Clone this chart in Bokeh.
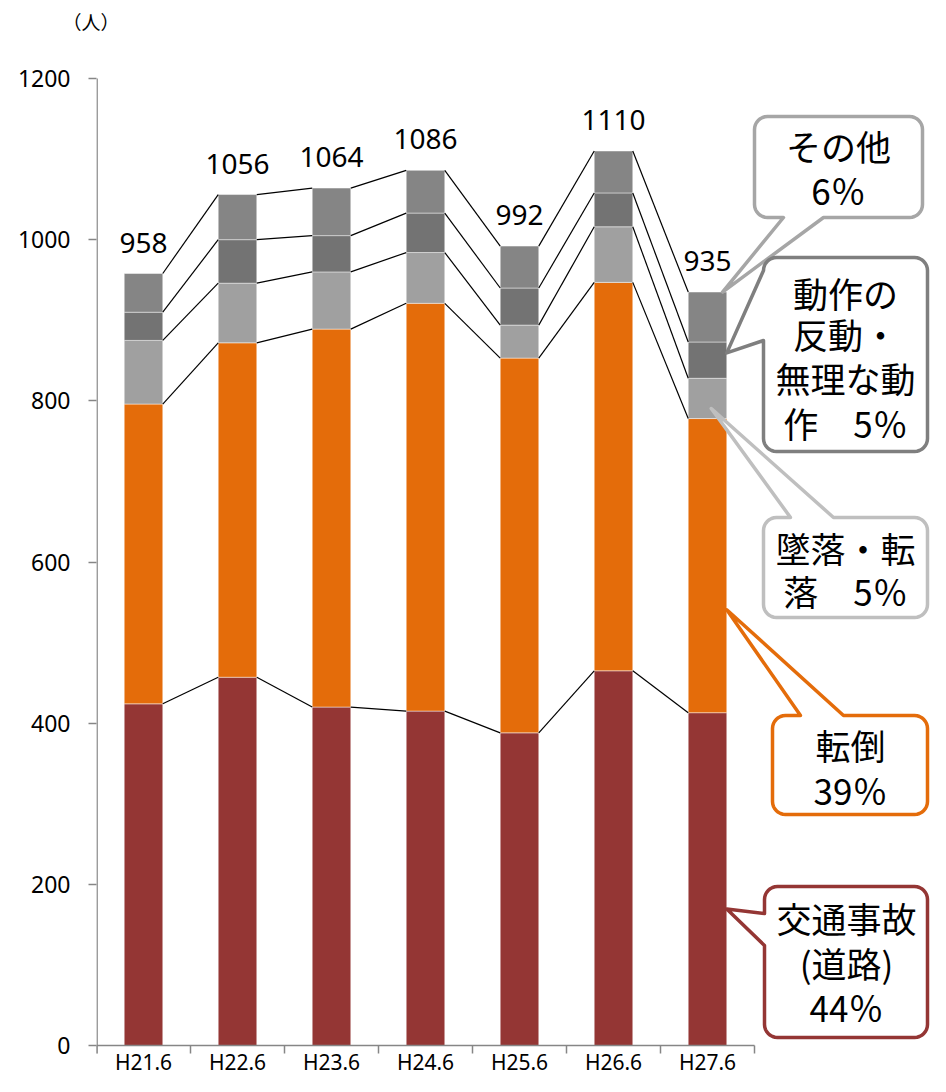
import math
from bokeh.plotting import figure
from bokeh.models import Range1d, FixedTicker, ColumnDataSource
from bokeh.core.properties import value
from bokeh.embed import file_html
from bokeh.resources import INLINE

# ---------------- data ----------------
categories = ["H21.6", "H22.6", "H23.6", "H24.6", "H25.6", "H26.6", "H27.6"]
traffic = [424, 457, 420, 415, 388, 465, 413]      # 交通事故(道路)
fall_over = [372, 415, 469, 506, 465, 482, 365]    # 転倒
fall_from = [79, 74, 71, 63, 41, 69, 50]           # 墜落・転落
reaction = [35, 54, 45, 49, 46, 42, 45]            # 動作の反動・無理な動作
other = [48, 56, 59, 53, 52, 52, 62]               # その他
totals = [958, 1056, 1064, 1086, 992, 1110, 935]
series_keys = ["traffic", "fall_over", "fall_from", "reaction", "other"]
series_colors = ["#943634", "#E46C0A", "#A0A0A0", "#737373", "#858585"]
y_ticks = [0, 200, 400, 600, 800, 1000, 1200]
unit_label = "（人）"
callout_lines = [
    ["その他", "6％"],
    ["動作の", "反動・", "無理な動", "作　5％"],
    ["墜落・転", "落　5％"],
    ["転倒", "39％"],
    ["交通事故", "(道路)", "44％"],
]
callout_borders = ["#A6A6A6", "#7F7F7F", "#BFBFBF", "#E46C0A", "#943634"]

# ---------------- layout helpers (canvas pixels <-> data) ----------------
W, H = 930, 1076
LEFT, TOP = 96, 36
CAT_PX = 94.0
K = 967.0 / 1200.0        # px per person
def X(px):
    return (px - LEFT) / CAT_PX
def Y(py):
    return (1045.0 - py) / K
def PX(x):
    return LEFT + x * CAT_PX
def PY(v):
    return 1045.0 - v * K

p = figure(width=W, height=H,
           x_range=Range1d(0, (W - LEFT) / CAT_PX),
           y_range=Range1d(Y(H), Y(TOP)),
           x_axis_location=None,
           output_backend="svg", toolbar_location=None,
           min_border_left=LEFT, min_border_right=0,
           min_border_top=TOP, min_border_bottom=0)
p.grid.visible = False
p.outline_line_color = None
p.background_fill_color = "white"
p.border_fill_color = "white"

p.title.text = unit_label
p.title.align = "left"
p.title.offset = 62 - LEFT
p.title.text_font = "Noto Sans CJK JP"
p.title.text_font_size = "19px"
p.title.text_font_style = "normal"
p.title.text_color = "black"
p.title.standoff = 4

yax = p.yaxis[0]
yax.ticker = FixedTicker(ticks=y_ticks)
yax.axis_line_color = None
yax.major_tick_out = 8
yax.major_tick_in = 0
yax.major_tick_line_color = "#868686"
yax.major_tick_line_width = 1.5
yax.minor_tick_line_color = None
yax.major_label_standoff = 18
yax.major_label_text_font_size = "23px"
yax.major_label_text_font = "Noto Sans"
yax.major_label_text_color = "black"

n = len(categories)
xs = [i + 0.5 for i in range(n)]
BW = 0.41

src = ColumnDataSource(dict(x=xs, traffic=traffic, fall_over=fall_over,
                            fall_from=fall_from, reaction=reaction, other=other))
p.vbar_stack(series_keys, x="x", width=BW, color=series_colors, source=src,
             line_color="white", line_alpha=0.45, line_width=1)

# connecting lines between stacked boundaries
series = [traffic, fall_over, fall_from, reaction, other]
cum = []
run = [0] * n
for s in series:
    run = [a + b for a, b in zip(run, s)]
    cum.append(run)
x0s, y0s, x1s, y1s = [], [], [], []
for level in cum:
    for i in range(n - 1):
        x0s.append(xs[i] + BW / 2)
        y0s.append(level[i])
        x1s.append(xs[i + 1] - BW / 2)
        y1s.append(level[i + 1])
p.segment(x0=x0s, y0=y0s, x1=x1s, y1=y1s, line_color="black", line_width=1.2)

# axis lines and x ticks (drawn as glyphs)
p.segment(x0=[0.006], y0=[Y(1053)], x1=[0.006], y1=[y_ticks[-1]],
          line_color="#868686", line_width=1.5)
p.segment(x0=[0], y0=[0], x1=[n], y1=[0], line_color="#868686", line_width=1.5)
p.segment(x0=list(range(n + 1)), y0=[0] * (n + 1), x1=list(range(n + 1)),
          y1=[Y(1053)] * (n + 1), line_color="#868686", line_width=1.5)

# category labels
p.text(x=xs, y=[0] * n, text=categories, y_offset=16,
       text_align="center", text_baseline="middle",
       text_font=value("Noto Sans"), text_font_size="21px", text_color="black")

# total labels
p.text(x=xs, y=totals, text=[str(t) for t in totals], y_offset=-31,
       text_align="center", text_baseline="middle",
       text_font=value("Noto Sans"), text_font_size="28px", text_color="black")

# ---------------- callouts ----------------
def callout(x0, y0, x1, y1, r, side, b1, b2, apex):
    pts = []
    def arc(cx, cy, a0, a1):
        for k in range(9):
            a = math.radians(a0 + (a1 - a0) * k / 8)
            pts.append((cx + r * math.cos(a), cy + r * math.sin(a)))
    pts.append((x0 + r, y0))
    if side == "top":
        pts.extend([(b1, y0), apex, (b2, y0)])
    arc(x1 - r, y0 + r, -90, 0)
    arc(x1 - r, y1 - r, 0, 90)
    if side == "bottom":
        pts.extend([(b2, y1), apex, (b1, y1)])
    arc(x0 + r, y1 - r, 90, 180)
    if side == "left":
        pts.extend([(x0, b2), apex, (x0, b1)])
    arc(x0 + r, y0 + r, 180, 270)
    return [X(a) for a, b in pts], [Y(b) for a, b in pts]

last = n - 1
right_edge = xs[last] + BW / 2
apexes = [
    (PX(xs[last] + 0.16), PY(cum[4][last])),
    (PX(right_edge), PY(cum[2][last] + 0.7 * reaction[last])),
    (PX(xs[last] + 0.04), PY(cum[1][last] + 0.25 * fall_from[last])),
    (PX(right_edge), PY(traffic[last] + 0.35 * fall_over[last])),
    (PX(right_edge), PY(0.41 * traffic[last])),
]
boxes = [
    (754, 116, 922, 217, "bottom", 783, 823),
    (763, 257, 927, 451, "left", 270, 340),
    (763, 517, 927, 617, "top", 790, 833),
    (772, 715, 927, 814, "top", 800, 843),
    (764, 886, 927, 1037, "left", 913, 945),
]
text_pos = [
    (838, [145, 189]),
    (845, [292, 333, 377, 422]),
    (845, [547, 590]),
    (850, [744, 789]),
    (846, [917, 962, 1006]),
]
pxs, pys = [], []
for (x0, y0, x1, y1, side, b1, b2), apex in zip(boxes, apexes):
    cx, cy = callout(x0, y0, x1, y1, 13, side, b1, b2, apex)
    pxs.append(cx)
    pys.append(cy)
p.patches(xs=pxs, ys=pys, fill_color="white", line_color=callout_borders,
          line_width=3.5, line_join="round")

tx, ty, tt = [], [], []
for (cxp, ylist), lines in zip(text_pos, callout_lines):
    for yy, t in zip(ylist, lines):
        tx.append(X(cxp))
        ty.append(Y(yy))
        tt.append(t)
p.text(x=tx, y=ty, text=tt, text_align="center", text_baseline="middle",
       text_font=value("Noto Sans CJK JP"), text_font_size="35px", text_color="black")

open("out.html", "w").write(file_html(p, INLINE))
